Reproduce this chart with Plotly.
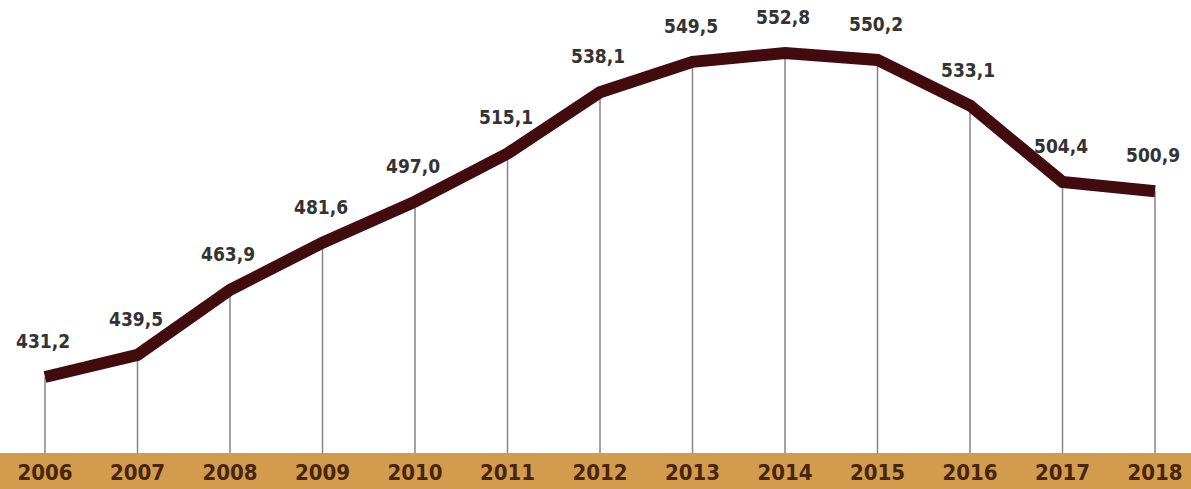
import plotly.graph_objects as go

years = [2006, 2007, 2008, 2009, 2010, 2011, 2012, 2013, 2014, 2015, 2016, 2017, 2018]
values = [431.2, 439.5, 463.9, 481.6, 497.0, 515.1, 538.1, 549.5, 552.8, 550.2, 533.1, 504.4, 500.9]
labels = ["431,2", "439,5", "463,9", "481,6", "497,0", "515,1", "538,1",
          "549,5", "552,8", "550,2", "533,1", "504,4", "500,9"]
year_labels = [str(y) for y in years]

W, H = 1191, 489
band_h = 36
y_min, y_max = 402.67, 572.7
x_min, x_max = 2005.5135, 2018.389

FONT = "DejaVu Sans Condensed, Liberation Sans Narrow, DejaVu Sans, sans-serif"

fig = go.Figure()

# drop lines
dx, dy = [], []
for yr, v in zip(years, values):
    dx += [yr, yr, None]
    dy += [v, y_min, None]
fig.add_trace(go.Scatter(x=dx, y=dy, mode="lines",
                         line=dict(color="#858585", width=1.5),
                         hoverinfo="skip", showlegend=False))

# main line
fig.add_trace(go.Scatter(x=years, y=values, mode="lines",
                         line=dict(color="#420b0e", width=12),
                         showlegend=False))

for yr, v, t in zip(years, values, labels):
    fig.add_annotation(x=yr, y=v, text="<b>%s</b>" % t, showarrow=False,
                       yshift=36, xshift=-2,
                       font=dict(family=FONT, size=19, color="#333333"))

fig.add_shape(type="rect", xref="paper", yref="paper",
              x0=0, x1=1, y0=-band_h / (H - band_h), y1=0,
              fillcolor="#d39b4e", line=dict(width=0), layer="below")

fig.update_layout(
    width=W, height=H,
    margin=dict(l=0, r=0, t=0, b=band_h),
    plot_bgcolor="white", paper_bgcolor="white",
    xaxis=dict(range=[x_min, x_max], tickmode="array", tickvals=years,
               ticktext=["<b>%s</b>" % s for s in year_labels],
               showgrid=False, zeroline=False, showline=False, ticks="",
               tickfont=dict(family=FONT, size=22, color="#45260f"),
               ticklabelstandoff=4),
    yaxis=dict(range=[y_min, y_max], visible=False, showgrid=False, zeroline=False),
)

fig.write_html("out.html")
